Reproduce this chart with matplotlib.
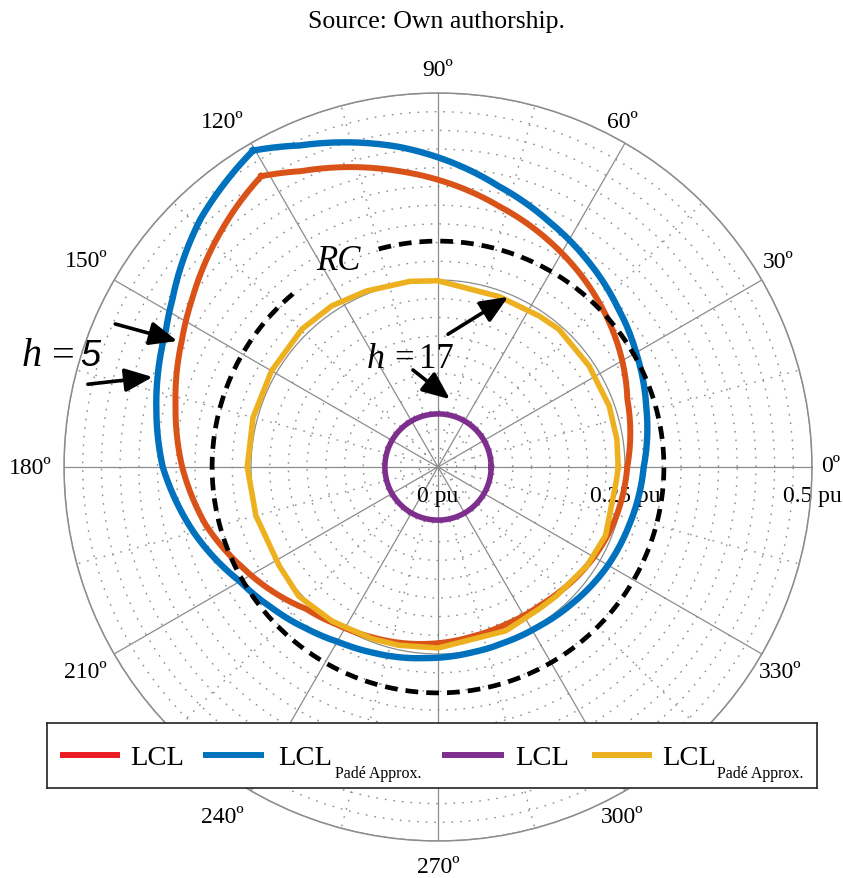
import numpy as np
import matplotlib
matplotlib.use("Agg")
import matplotlib.pyplot as plt

plt.rcParams["font.family"] = ["Liberation Serif", "DejaVu Serif"]

# ---------------------------------------------------------------------------
# Output impedance magnitude (pu) versus phase (degrees)
# ---------------------------------------------------------------------------
# h = 5, LCL filter
lcl_h5_theta = [121.3, 114.9, 106.4, 97.5, 90, 76.8, 64, 58.4, 45.7, 33.1, 19.8,
                0, -16.3, -29.4, -45.9, -53.2, -66.5, -78.3, -93.8, -111, -122.3,
                -132.9, -152.3, -166, -180, -192.9, -206.3, -214.3, -226.8,
                -233.1, -238.7]
lcl_h5_mag = [0.455, 0.436, 0.418, 0.399, 0.384, 0.358, 0.337, 0.328, 0.308,
              0.289, 0.269, 0.253, 0.247, 0.241, 0.233, 0.230, 0.229, 0.231,
              0.237, 0.244, 0.250, 0.259, 0.293, 0.320, 0.342, 0.360, 0.382,
              0.398, 0.427, 0.442, 0.455]

# h = 5, LCL filter with Padé approximation
pade_h5_theta = [120.3, 113.3, 105.3, 96.9, 90, 77.8, 65.6, 54.8, 42.1, 30.1,
                 16.3, 0, -17.2, -31.3, -45.2, -58, -68.7, -79.6, -93.6, -109.2,
                 -119.5, -128.6, -139.5, -150.1, -165, -180, -191.3, -206.6,
                 -212.3, -226.2, -232.8, -239.7]
pade_h5_mag = [0.490, 0.468, 0.450, 0.431, 0.414, 0.384, 0.360, 0.342, 0.322,
               0.306, 0.290, 0.275, 0.267, 0.262, 0.256, 0.252, 0.251, 0.252,
               0.256, 0.263, 0.269, 0.278, 0.291, 0.306, 0.338, 0.368, 0.384,
               0.407, 0.420, 0.459, 0.474, 0.490]

# h = 17, LCL filter (constant magnitude)
lcl_h17_theta = list(range(0, 361, 10))
lcl_h17_mag = 0.071

# h = 17, LCL filter with Padé approximation
pade_h17_theta = [0, 8.9, 19.6, 33.8, 48.8, 56.2, 70.3, 90, 98.6, 112.2, 123.4,
                  134.6, 150, 165, 180, 195, 211.9, 222.9, 235.5, 249, 257.6,
                  270, 292.5, 305.4, 312.5, 326.5, 337.7, 355.2, 360]
pade_h17_mag = [0.241, 0.242, 0.243, 0.243, 0.245, 0.243, 0.242, 0.249, 0.251,
                0.254, 0.258, 0.259, 0.257, 0.256, 0.255, 0.252, 0.250, 0.254,
                0.250, 0.246, 0.244, 0.242, 0.237, 0.233, 0.234, 0.239, 0.242,
                0.239, 0.241]

# RC region boundary (dashed arc, open where its label sits)
rc_theta = list(range(130, 467, 6))
rc_mag = 0.302

angle_ticks = list(range(0, 360, 30))
angle_labels = [f"{a}º" for a in angle_ticks]
# label centres (figure pixels) around the outer ring
angle_label_xy = [(831, 466), (778, 263), (622, 122), (438, 70), (222, 122),
                  (86, 262), (30, 468), (85, 672), (222, 818), (438, 868),
                  (622, 818), (780, 673)]
radial_ticks = [0, 0.25, 0.5]
radial_labels = ["0 pu", "0.25 pu", "0.5 pu"]

legend_labels = ["LCL", "LCL", "LCL", "LCL"]
legend_subs = ["", "Padé Approx.", "", "Padé Approx."]

C_ORANGE = "#D95319"
C_BLUE = "#0072BD"
C_PURPLE = "#7E2F8E"
C_YELLOW = "#EDB120"
C_RED = "#EC1C24"
GRID = "#8c8c8c"

W, H = 843, 879
fig = plt.figure(figsize=(W / 100, H / 100), dpi=100)
fig.patch.set_facecolor("white")


def px(x, y):
    """figure pixel position -> figure fraction"""
    return x / W, 1 - y / H


cx, cy, R = 438, 468, 374
ax = fig.add_axes([(cx - R) / W, (H - cy - R) / H, 2 * R / W, 2 * R / H],
                  projection="polar")
ax.set_ylim(0, 0.5)
ax.set_theta_zero_location("E")
ax.set_theta_direction(1)

# grid: solid majors, dotted minors
ax.set_xticks(np.deg2rad(angle_ticks))
ax.set_xticks(np.deg2rad(np.arange(15, 360, 30)), minor=True)
ax.set_yticks(radial_ticks)
ax.set_yticks(np.arange(0.025, 0.5, 0.025), minor=True)
ax.set_xticklabels([])
ax.set_yticklabels([])
ax.tick_params(which="both", length=0)
ax.grid(True, which="major", color=GRID, lw=0.9, ls="-")
ax.grid(True, which="minor", color=GRID, lw=1.0, ls=(0, (1.2, 5)))
ax.spines["polar"].set_color(GRID)
ax.spines["polar"].set_linewidth(1.1)

d2r = np.deg2rad


def polar_curve(theta_deg, mag, steps, **kw):
    """Plot a curve whose segments follow the polar grid (arcs, not chords)."""
    ln, = ax.plot(d2r(theta_deg), mag, **kw)
    ln.get_path()._interpolation_steps = steps
    return ln


polar_curve(lcl_h5_theta, lcl_h5_mag, 10, color=C_ORANGE, lw=4.3, zorder=3)
polar_curve(pade_h5_theta, pade_h5_mag, 10, color=C_BLUE, lw=4.6, zorder=3)
polar_curve(lcl_h17_theta, np.full(len(lcl_h17_theta), lcl_h17_mag), 6,
            color=C_PURPLE, lw=4.0, zorder=3)
ax.plot(d2r(pade_h17_theta), pade_h17_mag, color=C_YELLOW, lw=4.0, zorder=3)
polar_curve(rc_theta, np.full(len(rc_theta), rc_mag), 6, color="black",
            lw=3.4, ls=(0, (2.7, 1.7)), dash_capstyle="butt", zorder=4)

# angle labels
for (x, y), lab in zip(angle_label_xy, angle_labels):
    fig.text(*px(x, y), lab, ha="center", va="center", fontsize=17)

# radial labels below the 0º axis
for r, lab in zip(radial_ticks, radial_labels):
    ax.annotate(lab, xy=(0, r), xytext=(0, -29), textcoords="offset pixels",
                ha="center", va="center", fontsize=17, zorder=2.5,
                annotation_clip=False)

# arrows
arrow_kw = dict(arrowstyle="-|>,head_length=0.8,head_width=0.34",
                mutation_scale=21, lw=2.6, color="black",
                shrinkA=0, shrinkB=0)
for (t0, r0), (t1, r1) in [((156.1, 0.472), (154.2, 0.387)),
                           ((166.7, 0.481), (162.5, 0.400)),
                           ((85.7, 0.178), (67.6, 0.246)),
                           ((104.5, 0.134), (80.0, 0.092))]:
    ax.annotate("", xy=(d2r(t1), r1), xytext=(d2r(t0), r0),
                arrowprops=arrow_kw, zorder=6, annotation_clip=False)

# harmonic order labels
fig.text(*px(22, 366), "h", fontsize=29, style="italic", ha="left",
         va="baseline")
fig.text(*px(52, 366), "=", fontsize=29, ha="left", va="baseline")
fig.text(*px(80, 366), "5", fontsize=26, family="Liberation Sans",
         style="italic", ha="left", va="baseline")
fig.text(*px(367, 368), "h", fontsize=26, style="italic", ha="left",
         va="baseline")
fig.text(*px(394, 368), "=", fontsize=25, ha="left", va="baseline")
fig.text(*px(419, 368), "17", fontsize=25, ha="left", va="baseline")
fig.text(*px(316, 270), "RC", fontsize=25, style="italic", ha="left",
         va="baseline")

fig.text(*px(437, 22), "Source: Own authorship.", fontsize=18.5,
         ha="center", va="center")

# legend panel
lx0, ly0, lx1, ly1 = 47, 724, 817, 789
lax = fig.add_axes([lx0 / W, (H - ly1) / H, (lx1 - lx0) / W, (ly1 - ly0) / H])
lax.set_xlim(0, lx1 - lx0)
lax.set_ylim(ly1 - ly0, 0)
lax.set_xticks([])
lax.set_yticks([])
lax.set_facecolor("white")
for s in lax.spines.values():
    s.set_color("#222222")
    s.set_linewidth(1.2)

leg_colors = [C_RED, C_BLUE, C_PURPLE, C_YELLOW]
line_x = [(13, 73), (156, 217), (395, 457), (545, 605)]
text_x = [83, 231, 468, 615]
sub_x = [None, 288, None, 670]
for c, (a, b), tx, sx, lab, sub in zip(leg_colors, line_x, text_x, sub_x,
                                       legend_labels, legend_subs):
    lax.plot([a, b], [31.5, 31.5], color=c, lw=4.3, solid_capstyle="butt")
    lax.text(tx, 41, lab, fontsize=20.5, ha="left", va="baseline")
    if sub:
        lax.text(sx, 54, sub, fontsize=11.5, ha="left", va="baseline")

fig.savefig("out.png", dpi=100, facecolor="white")
